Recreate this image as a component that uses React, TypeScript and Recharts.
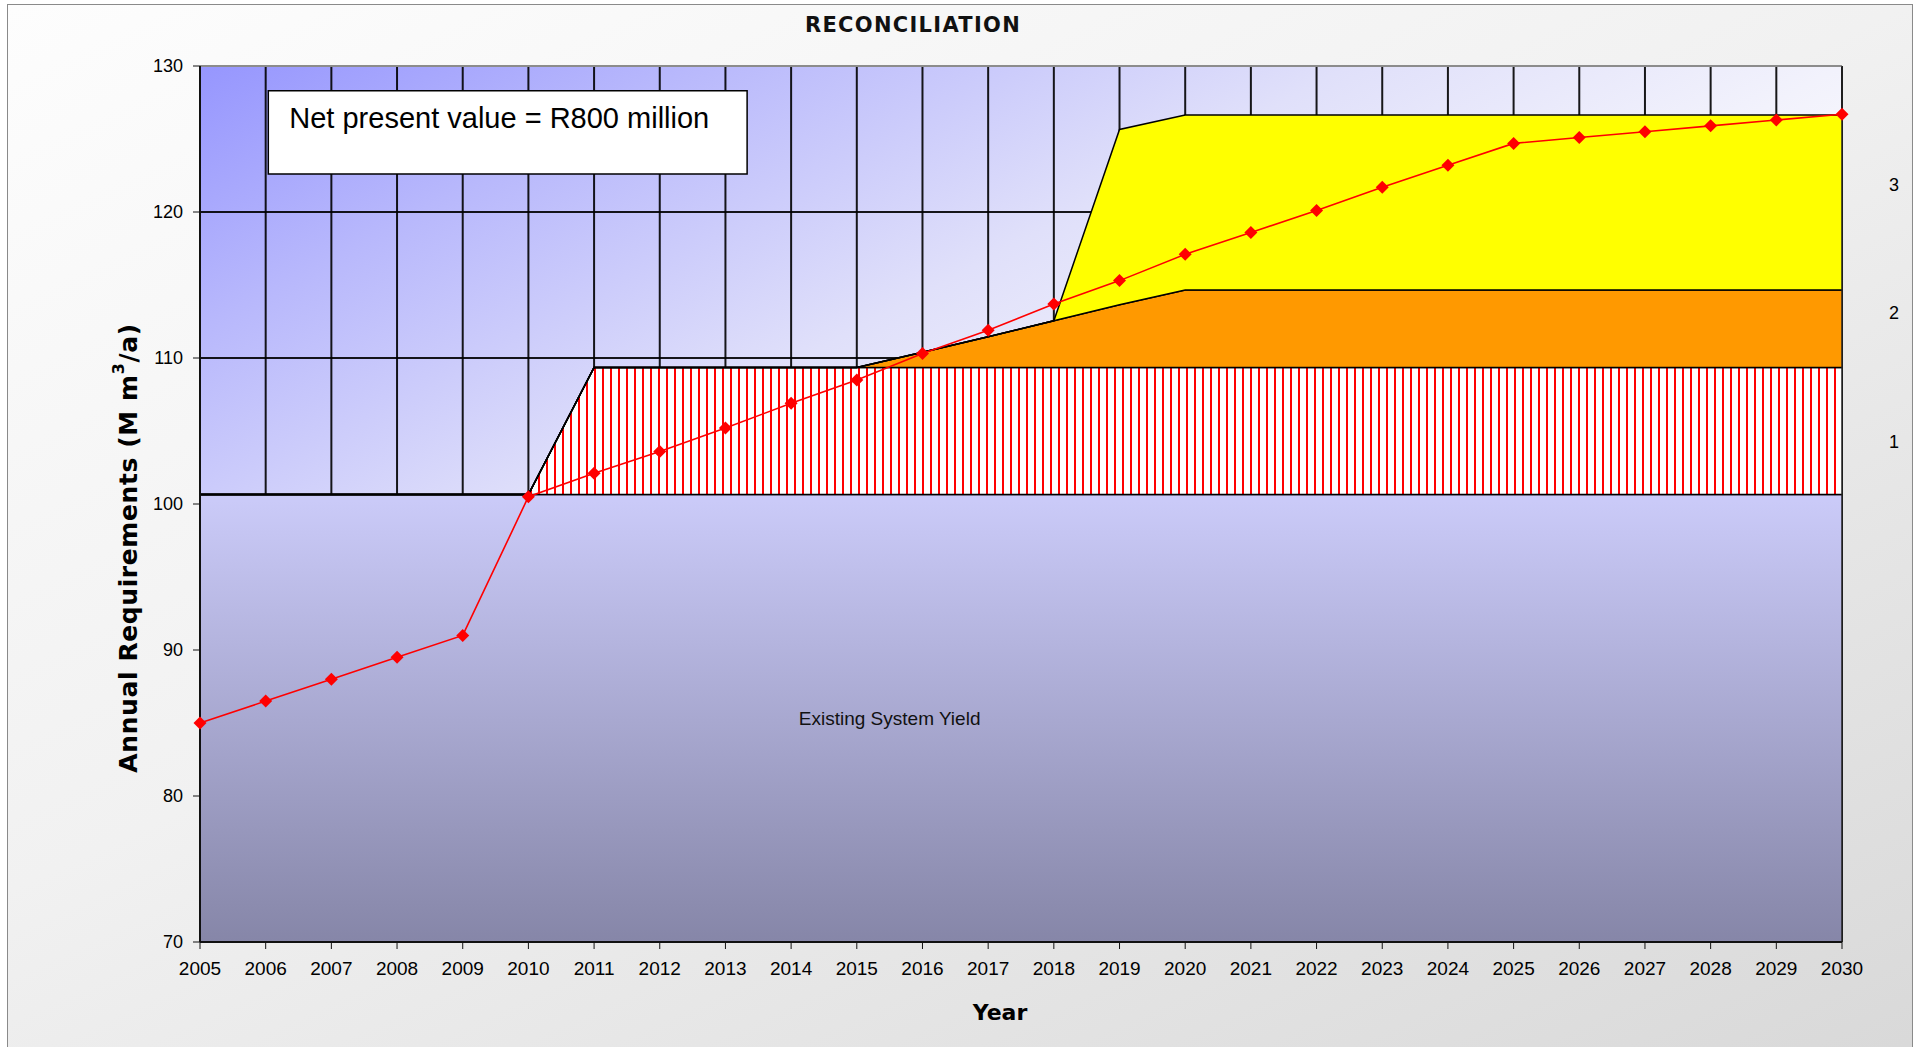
import React from "react";
import {
  ComposedChart,
  Area,
  Line,
  XAxis,
  YAxis,
  CartesianGrid,
  ReferenceArea,
  ReferenceDot,
  ReferenceLine,
} from "recharts";

const years = [
  2005, 2006, 2007, 2008, 2009, 2010, 2011, 2012, 2013, 2014, 2015, 2016, 2017,
  2018, 2019, 2020, 2021, 2022, 2023, 2024, 2025, 2026, 2027, 2028, 2029, 2030,
];

// projected annual requirement, M m3/a
const requirement = [
  85.0, 86.5, 88.0, 89.5, 91.0, 100.5, 102.1, 103.6, 105.2, 106.9, 108.5, 110.3,
  111.9, 113.7, 115.3, 117.1, 118.6, 120.1, 121.7, 123.2, 124.7, 125.1, 125.5,
  125.9, 126.3, 126.7,
];

// supply side: existing yield plus three augmentation schemes (stacked)
const existingYield = [
  100.65, 100.65, 100.65, 100.65, 100.65, 100.65, 100.65, 100.65, 100.65,
  100.65, 100.65, 100.65, 100.65, 100.65, 100.65, 100.65, 100.65, 100.65,
  100.65, 100.65, 100.65, 100.65, 100.65, 100.65, 100.65, 100.65,
];
const scheme1 = [
  0, 0, 0, 0, 0, 0, 8.7, 8.7, 8.7, 8.7, 8.7, 8.7, 8.7, 8.7, 8.7, 8.7, 8.7, 8.7,
  8.7, 8.7, 8.7, 8.7, 8.7, 8.7, 8.7, 8.7,
];
const scheme2 = [
  0, 0, 0, 0, 0, 0, 0, 0, 0, 0, 0, 1.05, 2.1, 3.2, 4.3, 5.3, 5.3, 5.3, 5.3, 5.3,
  5.3, 5.3, 5.3, 5.3, 5.3, 5.3,
];
const scheme3 = [
  0, 0, 0, 0, 0, 0, 0, 0, 0, 0, 0, 0, 0, 0, 12.0, 12.0, 12.0, 12.0, 12.0, 12.0,
  12.0, 12.0, 12.0, 12.0, 12.0, 12.0,
];

const yTicks = [70, 80, 90, 100, 110, 120, 130];

// scheme numbers printed to the right of the plot
const schemeLabels = ["1", "2", "3"];
const schemeLabelLevels = [104.25, 113.1, 121.85];

// note box, in data units
const npvBox = { x1: 2006.04, x2: 2013.33, y1: 122.6, y2: 128.3 };
const yieldLabelAt = { x: 2015.5, y: 85.35 };

const rows = years.map((year, i) => {
  const top1 = existingYield[i] + scheme1[i];
  const top2 = top1 + scheme2[i];
  const top3 = top2 + scheme3[i];
  return {
    year,
    requirement: requirement[i],
    existing: existingYield[i],
    s1: [existingYield[i], top1],
    s2: [top1, top2],
    s3: [top2, top3],
  };
});

const narrow = "'Liberation Sans Narrow', 'Arial Narrow', 'Liberation Sans', sans-serif";
const tickStyle = { fill: "#000", fontSize: 19, fontFamily: narrow };

const Diamond = (props: any) => {
  const { cx, cy, index } = props;
  if (cx == null || cy == null) return null;
  const r = 6.5;
  return (
    <polygon
      key={index}
      points={`${cx},${cy - r} ${cx + r},${cy} ${cx},${cy + r} ${cx - r},${cy}`}
      fill="#ff0000"
    />
  );
};

const YTitle = (props: any) => {
  const { viewBox } = props;
  const x = viewBox.x + 18;
  const y = viewBox.y + viewBox.height / 2 + 44;
  return (
    <text
      x={x}
      y={y}
      transform={`rotate(-90, ${x}, ${y})`}
      textAnchor="middle"
      dominantBaseline="central"
      fontFamily="'DejaVu Sans', sans-serif"
      fontWeight="bold"
      fontSize={25}
      letterSpacing={0.6}
      fill="#000"
    >
      Annual Requirements (M m
      <tspan dy={-10} fontSize={16}>3</tspan>
      <tspan dy={10}>/a)</tspan>
    </text>
  );
};

const XTitle = (props: any) => {
  const { viewBox } = props;
  return (
    <text
      x={viewBox.x + viewBox.width / 2 - 21}
      y={viewBox.y + 78}
      textAnchor="middle"
      fontFamily="'DejaVu Sans', sans-serif"
      fontWeight="bold"
      fontSize={22}
      fill="#000"
    >
      Year
    </text>
  );
};

const NpvText = (props: any) => {
  const { viewBox } = props;
  return (
    <text
      x={viewBox.x + 21}
      y={viewBox.y + 37}
      fontFamily="'Liberation Sans', Arial, sans-serif"
      fontSize={29}
      fill="#000"
    >
      Net present value = R800 million
    </text>
  );
};

export default function App() {
  return (
    <div
      style={{
        position: "absolute",
        left: 0,
        top: 0,
        width: 1921,
        height: 1047,
        background: "#fff",
        overflow: "hidden",
      }}
    >
      <div
        style={{
          position: "absolute",
          left: 7,
          top: 4,
          width: 1904,
          height: 1080,
          border: "1px solid #8a8a8a",
          background: "linear-gradient(155deg, #fdfdfd 0%, #f1f1f1 45%, #d8d8d8 100%)",
        }}
      />
      <div
        style={{
          position: "absolute",
          left: 713,
          top: 13,
          width: 400,
          textAlign: "center",
          fontFamily: "'DejaVu Sans', sans-serif",
          fontWeight: "bold",
          fontSize: 21,
          letterSpacing: 1.3,
          color: "#111",
        }}
      >
        RECONCILIATION
      </div>
      <div style={{ position: "absolute", left: 0, top: 0 }}>
        <ComposedChart
          width={1921}
          height={1047}
          data={rows}
          margin={{ top: 66, right: 79, bottom: 55, left: 110 }}
        >
          <defs>
            <linearGradient id="plotBg" x1="0" y1="0" x2="1" y2="1">
              <stop offset="0" stopColor="#9696fe" />
              <stop offset="0.15" stopColor="#b8b8fc" />
              <stop offset="0.35" stopColor="#e0e0fa" />
              <stop offset="0.5" stopColor="#f2f2fc" />
              <stop offset="0.65" stopColor="#ffffff" />
              <stop offset="1" stopColor="#ffffff" />
            </linearGradient>
            <linearGradient id="yieldFill" x1="0" y1="0" x2="0" y2="1">
              <stop offset="0" stopColor="#cbcbf9" />
              <stop offset="1" stopColor="#8686a8" />
            </linearGradient>
            <pattern id="hatch" width="8" height="8" patternUnits="userSpaceOnUse">
              <rect width="8" height="8" fill="#ffffff" />
              <rect x="2" width="2" height="8" fill="#ff0000" />
            </pattern>
          </defs>
          <CartesianGrid
            stroke="#000"
            strokeWidth={2}
            strokeOpacity={0.9}
            fill="url(#plotBg)"
            fillOpacity={1}
          />
          <XAxis
            dataKey="year"
            type="number"
            domain={[2005, 2030]}
            ticks={years}
            interval={0}
            height={50}
            tickSize={7}
            tickMargin={13}
            tick={tickStyle}
            axisLine={{ stroke: "#111", strokeWidth: 2 }}
            tickLine={{ stroke: "#111" }}
            label={<XTitle />}
          />
          <YAxis
            type="number"
            domain={[70, 130]}
            ticks={yTicks}
            width={90}
            tickSize={7}
            tickMargin={10}
            tick={{ ...tickStyle, fontSize: 18 }}
            axisLine={{ stroke: "#111", strokeWidth: 2 }}
            tickLine={{ stroke: "#111" }}
            label={<YTitle />}
          />
          <Area
            dataKey="existing"
            fill="url(#yieldFill)"
            fillOpacity={1}
            stroke="#000"
            strokeWidth={1.5}
            isAnimationActive={false}
          />
          <Area
            dataKey="s1"
            fill="url(#hatch)"
            fillOpacity={1}
            stroke="#000"
            strokeWidth={1.5}
            isAnimationActive={false}
          />
          <Area
            dataKey="s2"
            fill="#ff9900"
            fillOpacity={1}
            stroke="#000"
            strokeWidth={1.5}
            isAnimationActive={false}
          />
          <Area
            dataKey="s3"
            fill="#ffff00"
            fillOpacity={1}
            stroke="#000"
            strokeWidth={1.5}
            isAnimationActive={false}
          />
          <ReferenceLine y={130} stroke="#8c8c8c" strokeWidth={2} />
          <ReferenceLine x={2030} stroke="#222" strokeWidth={1.5} />
          <Line
            dataKey="requirement"
            stroke="#ff0000"
            strokeWidth={1.6}
            dot={Diamond}
            activeDot={false}
            isAnimationActive={false}
          />
          <ReferenceArea
            x1={npvBox.x1}
            x2={npvBox.x2}
            y1={npvBox.y1}
            y2={npvBox.y2}
            fill="#ffffff"
            fillOpacity={1}
            stroke="#000"
            strokeWidth={1.5}
            label={<NpvText />}
          />
          <ReferenceDot
            x={yieldLabelAt.x}
            y={yieldLabelAt.y}
            r={0}
            fill="none"
            stroke="none"
            label={{
              value: "Existing System Yield",
              position: "center",
              fill: "#111",
              fontSize: 19,
              fontFamily: narrow,
            }}
          />
          {schemeLabels.map((s, i) => (
            <ReferenceDot
              key={s}
              x={2030}
              y={schemeLabelLevels[i]}
              r={0}
              fill="none"
              stroke="none"
              label={{
                value: s,
                position: "right",
                offset: 47,
                fill: "#000",
                fontSize: 18,
                fontFamily: "'Liberation Sans', Arial, sans-serif",
              }}
            />
          ))}
        </ComposedChart>
      </div>
    </div>
  );
}
